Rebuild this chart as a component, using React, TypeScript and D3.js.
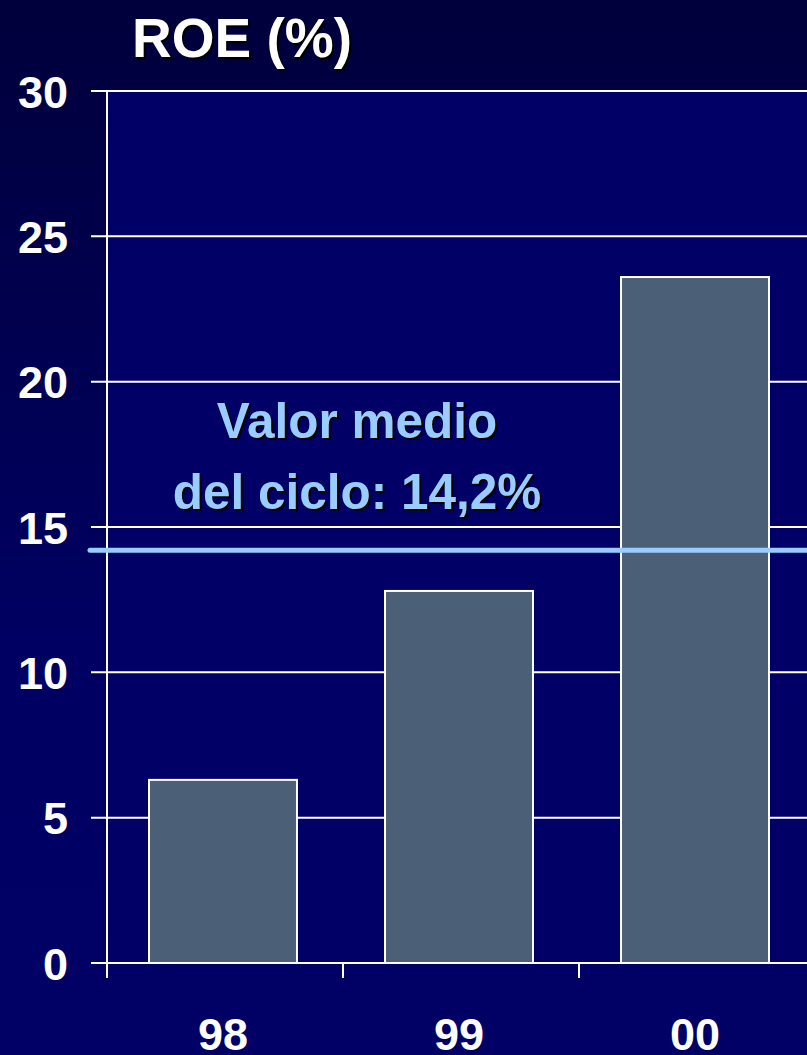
import React, { useRef, useEffect } from 'react';
import * as d3 from 'd3';

const years = ['98', '99', '00'];
const roeValues = [6.3, 12.8, 23.6];
const yTicks = [0, 5, 10, 15, 20, 25, 30];
const cycleMean = 14.2;
const meanLabel = ['Valor medio', 'del ciclo: 14,2%'];

const App = () => {
  const svgRef = useRef<SVGSVGElement>(null);

  useEffect(() => {
    const width = 807;
    const height = 1055;
    const left = 107;
    const top = 91;
    const bottom = 963;

    const svg = d3.select(svgRef.current);
    svg.selectAll('*').remove();
    svg.attr('width', width).attr('height', height);

    // background gradient
    const defs = svg.append('defs');
    const grad = defs.append('linearGradient')
      .attr('id', 'bg').attr('x1', 0).attr('y1', 0).attr('x2', 0).attr('y2', 1);
    grad.append('stop').attr('offset', '0%').attr('stop-color', '#00003c');
    grad.append('stop').attr('offset', '60%').attr('stop-color', '#000062');
    grad.append('stop').attr('offset', '100%').attr('stop-color', '#000066');

    svg.append('rect').attr('width', width).attr('height', height).attr('fill', 'url(#bg)');

    const x = d3.scaleBand()
      .domain(years)
      .range([left, 811])
      .paddingInner(0.373)
      .paddingOuter(0.178);
    const step = x.step();

    const y = d3.scaleLinear().domain([0, 30]).range([bottom, top]);

    // plot area
    svg.append('rect')
      .attr('x', left).attr('y', top)
      .attr('width', width - left).attr('height', bottom - top)
      .attr('fill', '#000066');

    // gridlines
    svg.append('g')
      .selectAll('line')
      .data(yTicks.filter(d => d > 0))
      .join('line')
      .attr('x1', left - 16).attr('x2', width)
      .attr('y1', d => y(d)).attr('y2', d => y(d))
      .attr('stroke', '#ffffff').attr('stroke-width', 2);

    // bars
    svg.append('g')
      .selectAll('rect')
      .data(roeValues)
      .join('rect')
      .attr('x', (d, i) => x(years[i])!)
      .attr('y', d => y(d))
      .attr('width', x.bandwidth())
      .attr('height', d => bottom - y(d))
      .attr('fill', '#4b6076')
      .attr('stroke', '#ffffff')
      .attr('stroke-width', 2);

    // axes
    svg.append('line')
      .attr('x1', left).attr('x2', left)
      .attr('y1', top).attr('y2', bottom + 15)
      .attr('stroke', '#ffffff').attr('stroke-width', 2);
    svg.append('line')
      .attr('x1', left - 16).attr('x2', width)
      .attr('y1', bottom).attr('y2', bottom)
      .attr('stroke', '#ffffff').attr('stroke-width', 2);

    // category boundary ticks
    svg.append('g')
      .selectAll('line')
      .data(d3.range(years.length + 1))
      .join('line')
      .attr('x1', i => left + i * step).attr('x2', i => left + i * step)
      .attr('y1', bottom).attr('y2', bottom + 15)
      .attr('stroke', '#ffffff').attr('stroke-width', 2);

    // y tick labels
    svg.append('g')
      .selectAll('text')
      .data(yTicks)
      .join('text')
      .attr('x', 68)
      .attr('y', d => y(d))
      .attr('dy', '0.37em')
      .attr('text-anchor', 'end')
      .attr('font-family', 'Liberation Sans, Arial, sans-serif')
      .attr('font-weight', 'bold')
      .attr('font-size', 45)
      .attr('fill', '#ffffff')
      .text(d => d);

    // x labels (cut by the bottom edge, as in the slide)
    svg.append('g')
      .selectAll('text')
      .data(years)
      .join('text')
      .attr('x', d => x(d)! + x.bandwidth() / 2)
      .attr('y', 1050)
      .attr('text-anchor', 'middle')
      .attr('font-family', 'Liberation Sans, Arial, sans-serif')
      .attr('font-weight', 'bold')
      .attr('font-size', 45)
      .attr('fill', '#ffffff')
      .text(d => d);

    // cycle mean line
    svg.append('line')
      .attr('x1', 90).attr('x2', width + 5)
      .attr('y1', y(cycleMean)).attr('y2', y(cycleMean))
      .attr('stroke', '#99ccff').attr('stroke-width', 5)
      .attr('stroke-linecap', 'round');

    // shadowed text helper
    const shadowText = (tx: number, ty: number, str: string, size: number, fill: string) => {
      const g = svg.append('g')
        .attr('font-family', 'Liberation Sans, Arial, sans-serif')
        .attr('font-weight', 'bold')
        .attr('font-size', size)
        .attr('text-anchor', 'middle');
      g.append('text').attr('x', tx + 2).attr('y', ty + 2).attr('fill', '#000000').text(str);
      g.append('text').attr('x', tx).attr('y', ty).attr('fill', fill).text(str);
    };

    shadowText(242, 57, 'ROE (%)', 55, '#ffffff');
    meanLabel.forEach((t, i) => shadowText(357, 438 + i * 71, t, 49.5, '#99ccff'));
  }, []);

  return <svg ref={svgRef} style={{ display: 'block', position: 'absolute', left: 0, top: 0 }}></svg>;
};

export default App;
